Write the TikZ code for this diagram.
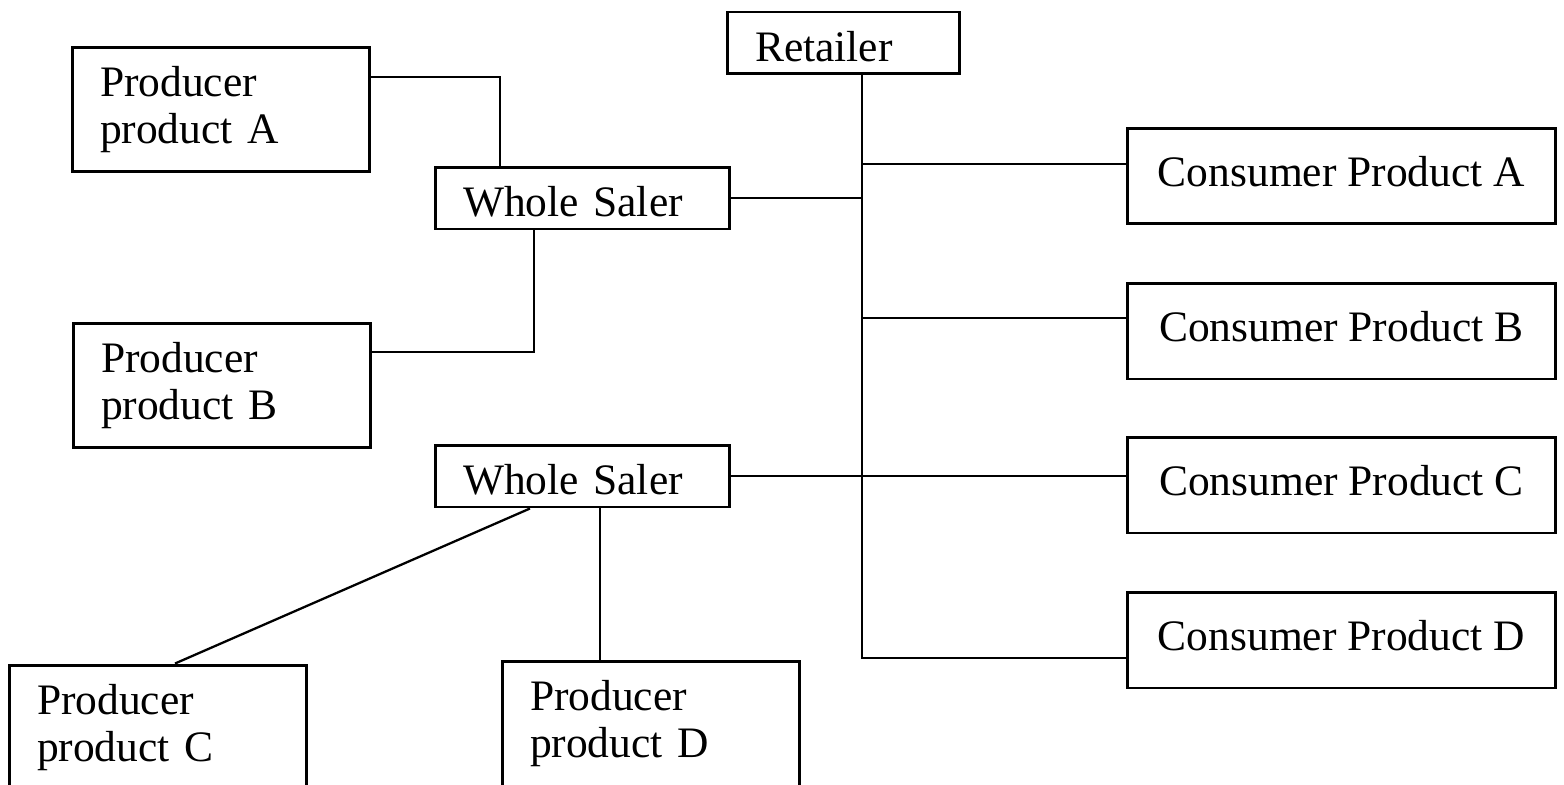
\documentclass[tikz,border=0pt]{standalone}
\usepackage{fontspec}
\setmainfont{Liberation Serif}
\begin{document}
\begin{tikzpicture}[x=0.02cm,y=-0.02cm,
    box/.style={draw,line width=1.7pt,inner xsep=0.56cm,inner ysep=0pt,font=\fontsize{24.75}{27}\selectfont},
    prodbox/.style={box,align=left,text width=4.84cm,minimum height=2.5cm},
    salebox/.style={box,align=left,text height=0.75cm,text depth=0pt,minimum height=1.24cm},
    consbox/.style={box,text depth=0.2cm,minimum width=8.58cm,minimum height=1.92cm},
    link/.style={line width=1.3pt}]
    \useasboundingbox (0,0) rectangle (1564,784);

    \node[prodbox] (PA) at (221,109.5) {Producer\\product A};
    \node[prodbox] (PB) at (222,385.5) {Producer\\product B};
    \node[prodbox] (PC) at (158,727.5) {Producer\\product C};
    \node[prodbox] (PD) at (651,723.5) {Producer\\product D};

    \node[salebox,text width=4.78cm] (W1) at (582.5,198) {Whole Saler};
    \node[salebox,text width=4.78cm] (W2) at (582.5,476) {Whole Saler};
    \node[salebox,text width=3.54cm] (R) at (843.5,43) {Retailer};

    \node[consbox] (CA) at (1341.5,176) {Consumer Product A};
    \node[consbox] (CB) at (1341.5,331) {Consumer Product B};
    \node[consbox] (CC) at (1341.5,485) {Consumer Product C};
    \node[consbox] (CD) at (1341.5,640) {Consumer Product D};

    \coordinate (M) at (500,77);
    \coordinate (N) at (534,352);
    \coordinate (T) at (862,658);
    \coordinate (YA) at (862,164);
    \coordinate (YB) at (862,318);
    \coordinate (U) at (530,0);
    \coordinate (V) at (175,0);
    \coordinate (S) at (600,0);

    \draw[link] (PA.east |- M) -- (M) -- (M |- W1.north);
    \draw[link] (N |- W1.south) -- (N) -- (N -| PB.east);
    \draw[link] (T |- R.south) -- (T) -- (T -| CD.west);
    \draw[link] (W1.east) -- (W1.east -| T);
    \draw[link] (YA) -- (YA -| CA.west);
    \draw[link] (YB) -- (YB -| CB.west);
    \draw[link] (W2.east) -- (W2.east -| CC.west);
    \draw[link] (U |- W2.south) -- (V |- PC.north);
    \draw[link] (S |- W2.south) -- (S |- PD.north);
\end{tikzpicture}
\end{document}
